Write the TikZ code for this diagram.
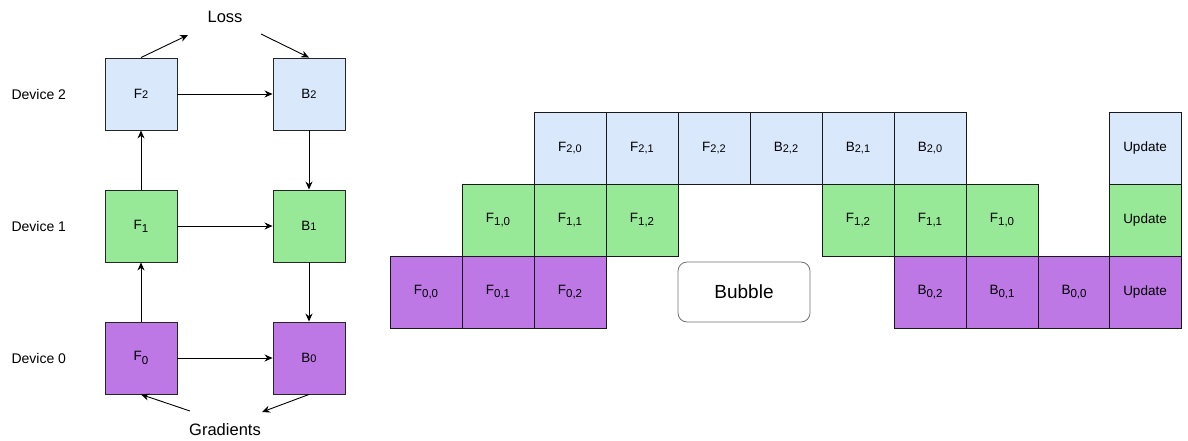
\documentclass[tikz,border=0pt]{standalone}
\usepackage{fontspec}
\setmainfont{Liberation Sans}
\usetikzlibrary{arrows.meta}
\definecolor{cblue}{HTML}{DAE8FC}
\definecolor{cgreen}{HTML}{97E897}
\definecolor{cpurple}{HTML}{BD78E6}
\newcommand{\sm}[1]{\raisebox{-0.6pt}{\fontsize{11}{11}\selectfont #1}}
\newcommand{\sbs}[1]{\raisebox{-3.2pt}{\fontsize{11.5}{11.5}\selectfont #1}}
\begin{document}
\begin{tikzpicture}[x=1pt,y=-1pt,
  every node/.style={font=\fontsize{13.5}{15}\selectfont},
  blk/.style={draw=black!85, line width=0.9pt, minimum width=72pt, minimum height=72pt, inner sep=0pt},
  cell/.style={draw=black!90, line width=0.9pt, minimum width=72pt, minimum height=72pt, inner sep=0pt},
  lbl/.style={anchor=west, font=\fontsize{14}{16}\selectfont},
  arr/.style={-{Stealth[length=8pt,width=7pt]}, line width=0.9pt}]
\useasboundingbox (0,0) rectangle (1188,440);
% left diagram
\node[blk, fill=cblue] (F2) at (141,94) {F\sm{2}};
\node[blk, fill=cblue] (B2) at (309,94) {B\sm{2}};
\node[blk, fill=cgreen] (F1) at (141,226) {F\sbs{1}};
\node[blk, fill=cgreen] (B1) at (309,226) {B\sm{1}};
\node[blk, fill=cpurple] (F0) at (141,358) {F\sbs{0}};
\node[blk, fill=cpurple] (B0) at (309,358) {B\sm{0}};
\node[lbl] (d2) at (8,94) {Device 2};
\node[lbl] (d1) at (8,226) {Device 1};
\node[lbl] (d0) at (8,358) {Device 0};
\node[font=\fontsize{16.5}{18}\selectfont] (loss) at (225,17) {Loss};
\node[font=\fontsize{16.5}{18}\selectfont] (grad) at (225,430) {Gradients};
\coordinate (l1) at (188,35);
\coordinate (l2) at (261,34);
\coordinate (g1) at (190,411);
\coordinate (g2) at (262,412);
\draw[arr] (F2.north) -- (l1);
\draw[arr] (l2) -- (B2.north);
\draw[arr] (g1) -- (F0.south);
\draw[arr] (B0.south) -- (g2);
\draw[arr] (F2) -- (B2);
\draw[arr] (F1) -- (B1);
\draw[arr] (F0) -- (B0);
\draw[arr] (F0) -- (F1);
\draw[arr] (F1) -- (F2);
\draw[arr] (B2) -- (B1);
\draw[arr] (B1) -- (B0);
% right grid
\node[cell, fill=cblue] (t0) at (570,148) {F\sm{2,0}};
\node[cell, fill=cblue] (t1) at (642,148) {F\sm{2,1}};
\node[cell, fill=cblue] (t2) at (714,148) {F\sm{2,2}};
\node[cell, fill=cblue] (t3) at (786,148) {B\sm{2,2}};
\node[cell, fill=cblue] (t4) at (858,148) {B\sm{2,1}};
\node[cell, fill=cblue] (t5) at (930,148) {B\sm{2,0}};
\node[cell, fill=cblue] (tu) at (1145,148) {Update};
\node[cell, fill=cgreen] (m0) at (498,220) {F\sbs{1,0}};
\node[cell, fill=cgreen] (m1) at (570,220) {F\sbs{1,1}};
\node[cell, fill=cgreen] (m2) at (642,220) {F\sbs{1,2}};
\node[cell, fill=cgreen] (m3) at (858,220) {F\sbs{1,2}};
\node[cell, fill=cgreen] (m4) at (930,220) {F\sbs{1,1}};
\node[cell, fill=cgreen] (m5) at (1002,220) {F\sbs{1,0}};
\node[cell, fill=cgreen] (mu) at (1145,220) {Update};
\node[cell, fill=cpurple] (b0) at (426,292) {F\sbs{0,0}};
\node[cell, fill=cpurple] (b1) at (498,292) {F\sbs{0,1}};
\node[cell, fill=cpurple] (b2) at (570,292) {F\sbs{0,2}};
\node[cell, fill=cpurple] (b3) at (930,292) {B\sbs{0,2}};
\node[cell, fill=cpurple] (b4) at (1002,292) {B\sbs{0,1}};
\node[cell, fill=cpurple] (b5) at (1074,292) {B\sbs{0,0}};
\node[cell, fill=cpurple] (bu) at (1145,292) {Update};
\node[draw=black!55, line width=0.8pt, fill=white, rounded corners=9pt, minimum width=132pt, minimum height=60pt, font=\fontsize{19}{21}\selectfont] (bubble) at (744,292) {Bubble};
\end{tikzpicture}
\end{document}
